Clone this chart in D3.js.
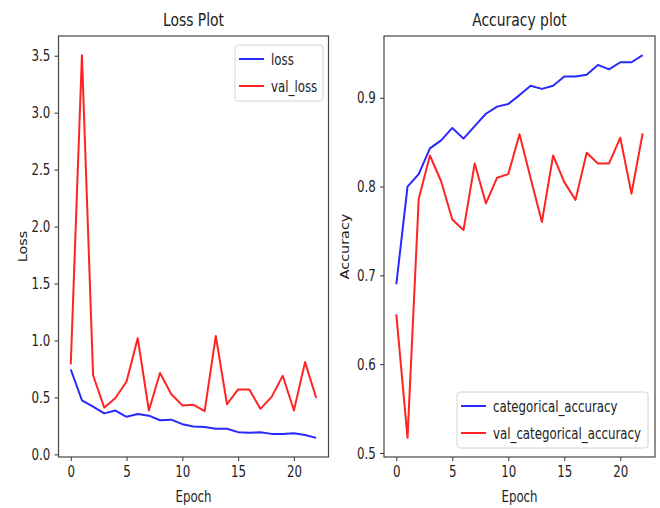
<!DOCTYPE html>
<html>
<head>
<meta charset="utf-8">
<script src="https://cdn.jsdelivr.net/npm/d3@7"></script>
<style>
  body { margin: 0; background: #fff; }
  text { font-family: "DejaVu Sans Condensed", "DejaVu Sans", sans-serif; fill: #222; }
</style>
</head>
<body>
<script>
var svgWidth = 660;
var svgHeight = 508;

// epochs and values
var epochs = d3.range(0, 23);
var loss = [0.745, 0.475, 0.42, 0.36, 0.385, 0.33, 0.355, 0.34, 0.30, 0.305, 0.265, 0.245,
  0.24, 0.225, 0.225, 0.195, 0.19, 0.195, 0.18, 0.18, 0.185, 0.17, 0.145];
var valLoss = [0.79, 3.505, 0.695, 0.41, 0.495, 0.64, 1.02, 0.385, 0.715, 0.53, 0.43, 0.435,
  0.38, 1.04, 0.44, 0.57, 0.57, 0.40, 0.505, 0.69, 0.385, 0.81, 0.495];
var acc = [0.69, 0.80, 0.814, 0.843, 0.852, 0.866, 0.854, 0.868, 0.882, 0.890, 0.893, 0.903,
  0.9135, 0.91, 0.9135, 0.924, 0.924, 0.926, 0.937, 0.932, 0.94, 0.94, 0.948];
var valAcc = [0.656, 0.517, 0.786, 0.835, 0.806, 0.763, 0.751, 0.826, 0.781, 0.81, 0.814, 0.859,
  0.809, 0.76, 0.835, 0.805, 0.785, 0.838, 0.826, 0.826, 0.855, 0.792, 0.86];

var xTicks = [0, 5, 10, 15, 20];
var lossTicks = [0.0, 0.5, 1.0, 1.5, 2.0, 2.5, 3.0, 3.5];
var accTicks = [0.5, 0.6, 0.7, 0.8, 0.9];

var blue = "#2828ff";
var red = "#ff2424";
var squeezeX = 0.82; // the picture's text is narrow and tall

var svg = d3.select("body")
  .append("svg")
  .attr("width", svgWidth)
  .attr("height", svgHeight);

// matplotlib style 5% padding around the data
function padded(values) {
  var ext = d3.extent(values);
  var pad = (ext[1] - ext[0]) * 0.05;
  return [ext[0] - pad, ext[1] + pad];
}

// text placed at (x, y), squeezed horizontally
function label(parent, x, y, str, size, anchor, sx) {
  return parent.append("text")
    .attr("transform", `translate(${x}, ${y}) scale(${sx || squeezeX}, 1)`)
    .attr("text-anchor", anchor || "start")
    .style("font-size", size + "px")
    .text(str);
}

function drawPanel(opts) {
  var g = svg.append("g");
  var x = d3.scaleLinear()
    .domain(padded(epochs))
    .range([opts.left, opts.right]);
  var y = d3.scaleLinear()
    .domain(padded(opts.series[0].values.concat(opts.series[1].values)))
    .range([opts.bottom, opts.top]);

  var xAxis = g.append("g")
    .attr("transform", `translate(0, ${opts.bottom})`)
    .call(d3.axisBottom(x).tickValues(xTicks).tickFormat(d3.format("d")).tickSize(4).tickPadding(6));
  var yAxis = g.append("g")
    .attr("transform", `translate(${opts.left}, 0)`)
    .call(d3.axisLeft(y).tickValues(opts.yTicks).tickFormat(d3.format(".1f")).tickSize(4).tickPadding(6));

  [xAxis, yAxis].forEach(function(a) {
    a.select(".domain").remove();
    a.selectAll(".tick line").attr("stroke", "#333");
    a.selectAll(".tick text")
      .style("font-size", "16px")
      .attr("fill", "#222")
      .attr("transform", `scale(${squeezeX}, 1)`);
  });
  xAxis.selectAll(".tick text").attr("dy", "0.62em");

  // frame
  g.append("rect")
    .attr("x", opts.left)
    .attr("y", opts.top)
    .attr("width", opts.right - opts.left)
    .attr("height", opts.bottom - opts.top)
    .attr("fill", "none")
    .attr("stroke", "#444")
    .attr("stroke-width", 1.2);

  var line = d3.line()
    .x(function(d, i) { return x(epochs[i]); })
    .y(function(d) { return y(d); });

  opts.series.forEach(function(s) {
    g.append("path")
      .datum(s.values)
      .attr("fill", "none")
      .attr("stroke", s.color)
      .attr("stroke-width", 2)
      .attr("stroke-linejoin", "round")
      .attr("d", line);
  });

  label(g, (opts.left + opts.right) / 2, 26, opts.title, 18, "middle", 0.86);
  label(g, (opts.left + opts.right) / 2, 502, "Epoch", 16, "middle");

  g.append("text")
    .attr("transform", `translate(${opts.ylabelX}, ${(opts.top + opts.bottom) / 2}) rotate(-90) scale(1, ${squeezeX})`)
    .attr("text-anchor", "middle")
    .style("font-size", "16px")
    .text(opts.ylabel);

  // legend
  var lg = opts.legend;
  g.append("rect")
    .attr("x", lg.x)
    .attr("y", lg.y)
    .attr("width", lg.w)
    .attr("height", 56)
    .attr("rx", 3)
    .attr("fill", "white")
    .attr("fill-opacity", 0.8)
    .attr("stroke", "#d4d4d4");
  opts.series.forEach(function(s, i) {
    var yy = lg.y + 14 + i * 27;
    g.append("line")
      .attr("x1", lg.x + 4)
      .attr("x2", lg.x + 29)
      .attr("y1", yy)
      .attr("y2", yy)
      .attr("stroke", s.color)
      .attr("stroke-width", 2);
    label(g, lg.x + 36, yy + 6, s.name, 16, "start");
  });
}

drawPanel({
  left: 58.5, right: 328.5, top: 36, bottom: 457,
  title: "Loss Plot", ylabel: "Loss", ylabelX: 27,
  yTicks: lossTicks,
  series: [
    { name: "loss", values: loss, color: blue },
    { name: "val_loss", values: valLoss, color: red }
  ],
  legend: { x: 235, y: 45, w: 88 }
});

drawPanel({
  left: 384, right: 655, top: 36, bottom: 457,
  title: "Accuracy plot", ylabel: "Accuracy", ylabelX: 349,
  yTicks: accTicks,
  series: [
    { name: "categorical_accuracy", values: acc, color: blue },
    { name: "val_categorical_accuracy", values: valAcc, color: red }
  ],
  legend: { x: 457, y: 392, w: 191 }
});
</script>
</body>
</html>
